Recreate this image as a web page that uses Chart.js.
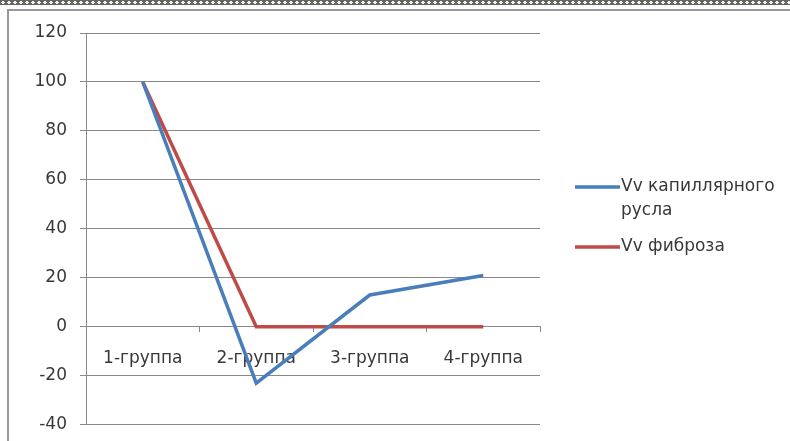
<!DOCTYPE html>
<html>
<head>
<meta charset="utf-8">
<script src="https://cdn.jsdelivr.net/npm/chart.js@4/dist/chart.umd.min.js"></script>
<style>
  html, body { margin: 0; padding: 0; background: #fff; }
  #wrap { position: relative; width: 790px; height: 441px; overflow: hidden; }
  #ornament {
    position: absolute; left: 0; top: 0; width: 790px; height: 5px;
    background:
      radial-gradient(ellipse 2px 1.5px at 3px 2.5px, #f2f2ee 90%, transparent 100%) 0 0 / 6px 5px,
      #66665f;
  }
  #frameTop { position: absolute; left: 7px; top: 9px; width: 783px; height: 2px; background: #999; }
  #frameLeft { position: absolute; left: 7px; top: 9px; width: 2px; height: 432px; background: #999; }
  canvas { position: absolute; left: 0; top: 0; }
</style>
</head>
<body>
<div id="wrap">
  <canvas id="chart" width="790" height="448"></canvas>
  <div id="ornament"></div>
  <div id="frameTop"></div>
  <div id="frameLeft"></div>
</div>
<script>
// Groups along the horizontal axis
const categories = ['1-группа', '2-группа', '3-группа', '4-группа'];
// Volume fraction of the capillary bed
const capillaryValues = [100, -23, 13, 21];
// Volume fraction of fibrosis
const fibrosisValues = [100, 0, 0, 0];
// Series names (the first one wraps onto two lines)
const seriesNames = [['Vv капиллярного', 'русла'], ['Vv фиброза']];
// Value axis range
const yMin = -40, yMax = 120, yStep = 20;

const FONT = '"DejaVu Sans", sans-serif';
const TEXT = '#383838';

// Legend drawn at the right, one colored line sample per series
const sideLegend = {
  id: 'sideLegend',
  afterDraw(chart) {
    const ctx = chart.ctx;
    ctx.save();
    ctx.font = '17px ' + FONT;
    ctx.textBaseline = 'middle';
    ctx.fillStyle = TEXT;
    let y = 187;
    chart.data.datasets.forEach(ds => {
      const lines = ds.legendLines;
      ctx.strokeStyle = ds.borderColor;
      ctx.lineWidth = 3.5;
      ctx.beginPath();
      ctx.moveTo(575, y);
      ctx.lineTo(620, y);
      ctx.stroke();
      lines.forEach((t, i) => ctx.fillText(t, 621, y + i * 24));
      y += lines.length * 24 + 12;
    });
    ctx.restore();
  }
};

new Chart(document.getElementById('chart'), {
  type: 'line',
  data: {
    labels: categories,
    datasets: [
      {
        label: seriesNames[0].join(' '),
        legendLines: seriesNames[0],
        data: capillaryValues,
        borderColor: '#4a7ebb',
        borderWidth: 3.5,
        pointRadius: 0,
        tension: 0
      },
      {
        label: seriesNames[1].join(' '),
        legendLines: seriesNames[1],
        data: fibrosisValues,
        borderColor: '#be4b48',
        borderWidth: 3.5,
        pointRadius: 0,
        tension: 0
      }
    ]
  },
  options: {
    responsive: false,
    animation: false,
    devicePixelRatio: 1,
    layout: { padding: { left: 0, top: 33, right: 250, bottom: 10 } },
    plugins: { legend: { display: false }, tooltip: { enabled: false } },
    scales: {
      x: {
        position: { y: 0 },
        offset: true,
        grid: {
          display: true,
          offset: true,
          drawOnChartArea: false,
          drawTicks: true,
          tickLength: 5,
          color: '#888',
          lineWidth: 1
        },
        border: { display: true, color: '#888', width: 1 },
        ticks: {
          padding: 17,
          color: TEXT,
          font: { family: FONT, size: 17 },
          maxRotation: 0
        }
      },
      y: {
        min: yMin,
        max: yMax,
        afterFit(scale) { scale.width = 86; },
        grid: { color: '#888', lineWidth: 1, tickLength: 6 },
        border: { display: true, color: '#888', width: 1 },
        ticks: {
          stepSize: yStep,
          padding: 13,
          color: TEXT,
          font: { family: FONT, size: 17 }
        }
      }
    }
  },
  plugins: [sideLegend]
});
</script>
</body>
</html>
